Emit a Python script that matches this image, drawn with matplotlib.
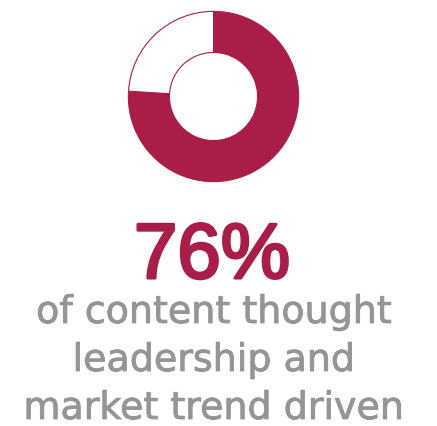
import matplotlib
matplotlib.use("Agg")
import matplotlib.pyplot as plt
import matplotlib.patheffects as pe

# Data
labels = ["Thought leadership & market trend driven", "Other"]
values = [76, 24]
headline = "76%"
caption_lines = ["of content thought", "leadership and", "market trend driven"]

CRIMSON = "#A91E47"
GRAY = "#949598"

W, H = 437, 427
DPI = 100
fig = plt.figure(figsize=(W / DPI, H / DPI), dpi=DPI)
fig.patch.set_facecolor("white")

# donut geometry in pixels (from top-left)
cx, cy, r_out, r_in = 213.5, 97.5, 86.0, 44.5
ax = fig.add_axes([(cx - r_out) / W, (H - cy - r_out) / H, 2 * r_out / W, 2 * r_out / H])
ax.pie(values, colors=[CRIMSON, "white"], startangle=90, counterclock=False,
       radius=1.0,
       wedgeprops=dict(width=1 - r_in / r_out, edgecolor=CRIMSON, linewidth=0.8))
ax.set_xlim(-1.01, 1.01)
ax.set_ylim(-1.01, 1.01)
ax.set_aspect("equal")
ax.axis("off")

px2pt = 72 / DPI
fig.text(212 / W, 1 - 279 / H, headline, ha="center", va="baseline",
         fontsize=78 * px2pt, color=CRIMSON, family="Liberation Sans",
         path_effects=[pe.withStroke(linewidth=2.2, foreground=CRIMSON)])

baselines = [324, 372, 420]
for line, b in zip(caption_lines, baselines):
    fig.text(214 / W, 1 - b / H, line, ha="center", va="baseline",
             fontsize=38 * px2pt, color=GRAY, family="DejaVu Sans",
             path_effects=[pe.withStroke(linewidth=0.6, foreground=GRAY)])

fig.savefig("out.png", dpi=DPI, facecolor="white")
